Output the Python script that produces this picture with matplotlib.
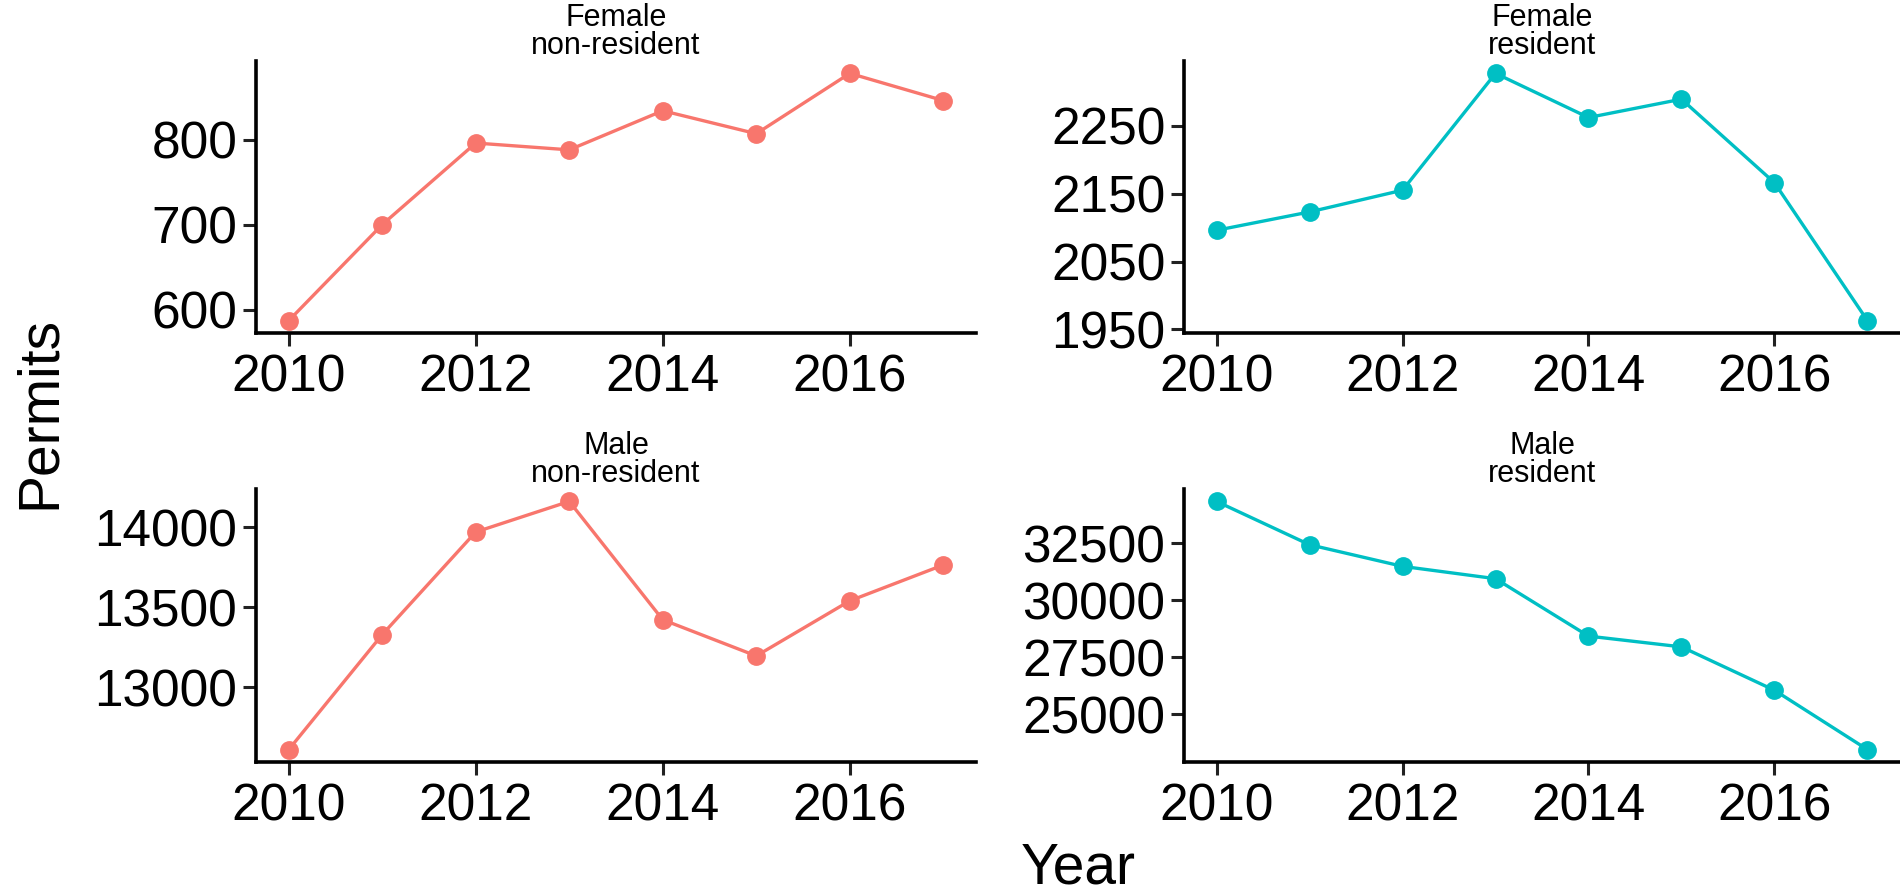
import matplotlib
matplotlib.use("Agg")
import matplotlib.pyplot as plt

plt.rcParams['font.family'] = ['Liberation Sans', 'DejaVu Sans']

years = [2010, 2011, 2012, 2013, 2014, 2015, 2016, 2017]

female_nonres = [587, 700, 796, 788, 834, 807, 878, 846]
female_res = [2096, 2123, 2155, 2327, 2262, 2289, 2166, 1963]
male_nonres = [12610, 13328, 13969, 14160, 13421, 13195, 13539, 13763]
male_res = [34324, 32427, 31479, 30939, 28424, 27952, 26051, 23453]

titles = ["Female\nnon-resident", "Female\nresident",
          "Male\nnon-resident", "Male\nresident"]
series = [female_nonres, female_res, male_nonres, male_res]
yticks = [[600, 700, 800],
          [1950, 2050, 2150, 2250],
          [13000, 13500, 14000],
          [25000, 27500, 30000, 32500]]
xticks = [2010, 2012, 2014, 2016]

red = '#F8766D'
teal = '#00BFC4'
colors = [red, teal, red, teal]

W, H = 1900, 894
fig = plt.figure(figsize=(W / 100, H / 100), dpi=100)

# axes boxes in pixels: left, top, right, bottom
boxes = [(256, 61, 976, 333), (1184, 61, 1900, 333),
         (256, 489, 976, 762), (1184, 489, 1900, 762)]

for i, (l, t, r, b) in enumerate(boxes):
    ax = fig.add_axes([l / W, 1 - b / H, (r - l) / W, (b - t) / H])
    y = series[i]
    ax.plot(years, y, color=colors[i], lw=2.4, marker='o', ms=12.5,
            clip_on=False, zorder=3)
    lo, hi = min(y), max(y)
    pad = 0.05 * (hi - lo)
    ax.set_ylim(lo - pad, hi + pad)
    ax.set_xlim(2009.65, 2017.35)
    ax.set_xticks(xticks)
    ax.set_yticks(yticks[i])
    ax.tick_params(axis='both', labelsize=37, length=9.5, width=2.2,
                   color='#222222')
    ax.tick_params(axis='x', pad=5)
    ax.tick_params(axis='y', pad=4)
    for s in ['top', 'right']:
        ax.spines[s].set_visible(False)
    for s in ['left', 'bottom']:
        ax.spines[s].set_linewidth(2.6)
    ax.set_title(titles[i], fontsize=22, pad=0, linespacing=0.9)

fig.text(40 / W, 1 - 412 / H, 'Permits', rotation=90, fontsize=41,
         ha='center', va='center')
fig.text(1078 / W, 1 - 868 / H, 'Year', fontsize=41,
         ha='center', va='center')

fig.savefig('out.png', dpi=100)
